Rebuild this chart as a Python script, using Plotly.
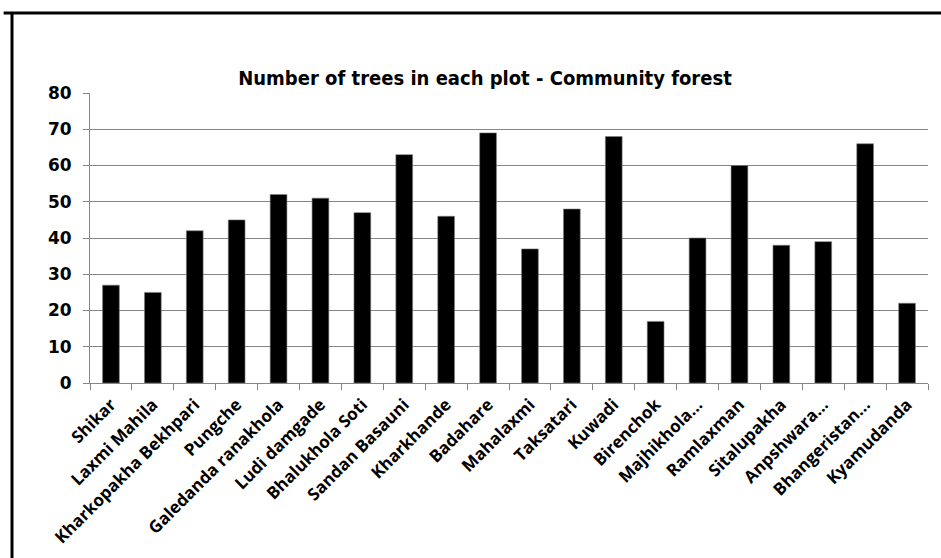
import plotly.graph_objects as go

plots = [
    "Shikar", "Laxmi Mahila", "Kharkopakha Bekhpari", "Pungche",
    "Galedanda ranakhola", "Ludi damgade", "Bhalukhola Soti", "Sandan Basauni",
    "Kharkhande", "Badahare", "Mahalaxmi", "Taksatari", "Kuwadi", "Birenchok",
    "Majhikhola...", "Ramlaxman", "Sitalupakha", "Anpshwara...",
    "Bhangeristan...", "Kyamudanda",
]
tree_counts = [27, 25, 42, 45, 52, 51, 47, 63, 46, 69, 37, 48, 68, 17, 40, 60, 38, 39, 66, 22]
y_ticks = [0, 10, 20, 30, 40, 50, 60, 70, 80]

W, H = 941, 558
L, R, T, B = 90, 13, 93, 175
pw, ph = W - L - R, H - T - B

fig = go.Figure(go.Bar(
    x=plots, y=tree_counts,
    marker=dict(color="black", line=dict(color="#7f7f7f", width=0.6)),
))

fig.update_layout(
    width=W, height=H,
    margin=dict(l=L, r=R, t=T, b=B),
    plot_bgcolor="white", paper_bgcolor="white",
    bargap=0.6,
    showlegend=False,
    title=dict(
        text="<b>Number of trees in each plot - Community forest</b>",
        x=(485 - L) / pw, xref="paper", xanchor="center",
        y=1 - 78 / H, yanchor="middle",
        font=dict(family="DejaVu Sans Condensed", size=20, color="black"),
    ),
    xaxis=dict(
        type="category",
        automargin=False,
        tickangle=-45,
        tickson="boundaries",
        ticks="outside", ticklen=6, tickcolor="#868686",
        ticklabelstandoff=4,
        showline=True, linecolor="#868686", linewidth=1,
        showgrid=False,
        tickfont=dict(family="Open Sans", size=17, color="black", weight="bold"),
    ),
    yaxis=dict(
        range=[0, 80],
        automargin=False,
        tickvals=y_ticks,
        ticks="outside", ticklen=6, tickcolor="#868686",
        ticklabelstandoff=8,
        showline=True, linecolor="#868686", linewidth=1,
        showgrid=True, gridcolor="#868686", gridwidth=1,
        zeroline=False,
        tickfont=dict(family="DejaVu Sans", size=17, color="black", weight="bold"),
    ),
)

# Chart frame: left and top edges of the outer border
fx0 = (12 - L) / pw
fy1 = (H - B - 13) / ph
fig.add_shape(type="line", xref="paper", yref="paper",
              x0=fx0, x1=fx0, y0=-1.0, y1=fy1,
              line=dict(color="black", width=3))
fig.add_shape(type="line", xref="paper", yref="paper",
              x0=fx0 - 0.01, x1=1.2, y0=fy1, y1=fy1,
              line=dict(color="black", width=3))

fig.write_html("out.html")
